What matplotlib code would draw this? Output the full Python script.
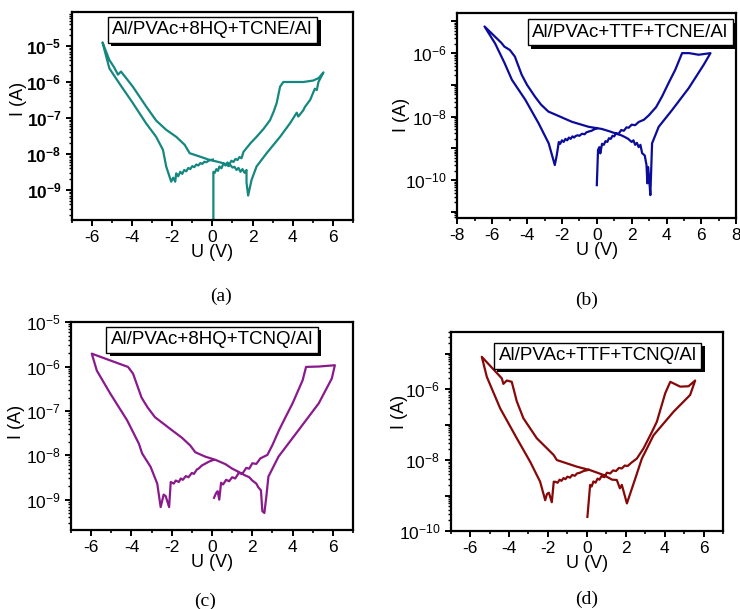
import matplotlib
matplotlib.use("Agg")
import matplotlib.pyplot as plt
import matplotlib.patheffects as pe
import matplotlib.ticker as mticker
import numpy as np

plt.rcParams.update({
    "font.family": ["Liberation Sans", "DejaVu Sans"],
    "font.size": 12,
    "axes.linewidth": 1.6,
    "xtick.major.width": 1.4,
    "ytick.major.width": 1.4,
    "xtick.minor.width": 1.2,
    "ytick.minor.width": 1.0,
    "xtick.major.size": 4,
    "ytick.major.size": 4,
    "xtick.minor.size": 2.5,
    "ytick.minor.size": 2,
    "mathtext.fontset": "custom",
    "mathtext.rm": "Liberation Sans",
    "mathtext.it": "Liberation Sans:italic",
    "mathtext.bf": "Liberation Sans:bold",
    "mathtext.default": "regular",
})

# (a) Al/PVAc+8HQ+TCNE/Al
u_a = [0.05, 0.05, 0.12, 0.2, 0.28, 0.35, 0.45, 0.55, 0.65, 0.75, 0.85, 0.95, 1.05, 1.15, 1.25, 1.35, 1.45,
       1.55, 1.9, 2.2, 2.55, 2.87, 3.05, 3.2, 3.37, 3.53, 4.0, 4.53, 5.03, 5.3, 5.53,
       5.28, 5.2, 5.1, 4.87, 4.6, 4.53, 4.28, 4.2, 3.87, 3.37, 2.7, 2.2, 1.95, 1.78, 1.7, 1.7, 1.6, 1.5,
       1.4, 1.3, 1.2, 1.1, 1.0, 0.9, 0.8, 0.65, 0.5, 0.35, 0.2, -0.13, -0.63, -1.13, -1.38, -1.8, -2.3,
       -2.8, -3.3, -3.96, -4.3, -4.55, -4.7, -4.9, -5.13, -5.47,
       -5.13, -4.63, -3.96, -3.3, -2.8, -2.46, -2.3, -2.05, -1.95, -1.85, -1.8, -1.7, -1.6, -1.5, -1.4,
       -1.3, -1.2, -1.1, -1.0, -0.9, -0.8, -0.7, -0.6, -0.5, -0.4, -0.3, -0.13, 0.03]
i_a = [1.5e-10, 3.2e-9, 3.0e-9, 3.8e-9, 3.4e-9, 4.5e-9, 4.0e-9, 5.4e-9, 4.8e-9, 5.8e-9, 5.2e-9, 6.5e-9,
       6.0e-9, 7.3e-9, 6.8e-9, 8.2e-9, 7.6e-9, 1.15e-8, 2.0e-8, 3.0e-8, 5.0e-8, 8.7e-8, 1.5e-7, 2.6e-7,
       7.4e-7, 1.0e-6, 1.0e-6, 1.0e-6, 1.1e-6, 1.3e-6, 1.85e-6,
       1.0e-6, 6.0e-7, 6.5e-7, 3.2e-7, 2.0e-7, 1.65e-7, 1.1e-7, 1.4e-7, 7.2e-8, 3.0e-8, 1.05e-8, 4.5e-9,
       1.9e-9, 7.0e-10, 1.6e-9, 3.6e-9, 3.0e-9, 3.8e-9, 3.2e-9, 4.1e-9, 3.6e-9, 4.4e-9, 4.2e-9, 4.9e-9,
       4.6e-9, 5.3e-9, 5.6e-9, 5.9e-9, 6.2e-9, 6.8e-9, 8.5e-9, 1.05e-8, 1.8e-8, 3.0e-8, 4.7e-8, 8.5e-8,
       2.1e-7, 7.4e-7, 1.3e-6, 1.95e-6, 1.6e-6, 2.6e-6, 4.1e-6, 1.26e-5,
       2.4e-6, 9.1e-7, 2.6e-7, 7.1e-8, 3.0e-8, 1.3e-8, 4.5e-9, 1.7e-9, 2.2e-9, 1.7e-9, 2.9e-9, 2.4e-9,
       3.2e-9, 2.8e-9, 3.6e-9, 3.3e-9, 4.1e-9, 3.8e-9, 4.6e-9, 4.3e-9, 5.1e-9, 4.8e-9, 5.6e-9, 5.3e-9,
       6.1e-9, 5.9e-9, 6.8e-9, 7.0e-9]

# (b) Al/PVAc+TTF+TCNE/Al
u_b = [0.0, 0.07, 0.15, 0.2, 0.3, 0.4, 0.5, 0.6, 0.7, 0.8, 0.9, 1.0, 1.1, 1.25, 1.4, 1.55, 1.7, 1.83, 2.0,
       2.2, 2.4, 2.7, 2.98, 3.4, 3.74, 4.1, 4.5, 4.89, 5.3, 5.84, 6.52,
       6.13, 5.27, 4.31, 3.55, 3.17, 3.07, 3.0, 2.94, 2.9, 2.85, 2.75, 2.6, 2.5, 2.4, 2.3, 2.2, 2.1, 2.0,
       1.8, 1.6, 1.4, 1.2, 1.06, 0.7, 0.29, -0.47, -1.43, -2.1, -2.78, -3.2, -3.55, -4.0, -4.31, -4.7,
       -4.99, -5.3, -5.47, -6.44,
       -5.83, -5.3, -4.87, -4.1, -3.34, -2.76, -2.41, -2.3, -2.18, -2.1, -2.0, -1.9, -1.8, -1.7, -1.6,
       -1.5, -1.4, -1.3, -1.22, -1.1, -1.0, -0.85, -0.7, -0.6, -0.47, -0.3, -0.15, 0.0]
i_b = [7e-11, 9e-10, 1.1e-9, 7e-10, 1.4e-9, 1.3e-9, 1.7e-9, 1.6e-9, 2.1e-9, 2.0e-9, 2.5e-9, 2.4e-9, 3.0e-9,
       2.9e-9, 3.8e-9, 3.6e-9, 4.6e-9, 4.5e-9, 5.6e-9, 5.4e-9, 6.8e-9, 8.0e-9, 1.1e-8, 2.0e-8, 4.3e-8,
       1.1e-7, 3.0e-7, 1.0e-6, 1.0e-6, 8.9e-7, 1.0e-6,
       4.3e-7, 7.9e-8, 1.6e-8, 4.8e-9, 1.45e-9, 3.4e-11, 1.2e-10, 2.6e-10, 8e-11, 3.0e-10, 6.0e-10,
       7.1e-10, 1.3e-9, 1.1e-9, 1.5e-9, 1.3e-9, 1.8e-9, 1.6e-9, 2.0e-9, 2.3e-9, 2.6e-9, 2.8e-9, 3.0e-9,
       3.5e-9, 4.1e-9, 4.8e-9, 6.9e-9, 1.0e-8, 1.45e-8, 2.4e-8, 4.3e-8, 1.0e-7, 2.1e-7, 7.8e-7, 1.26e-6,
       1.6e-6, 2.1e-6, 6.9e-6,
       2.0e-6, 5.0e-7, 1.45e-7, 3.4e-8, 6.2e-9, 1.45e-9, 3.0e-10, 6.0e-10, 1.6e-9, 1.4e-9, 1.8e-9,
       1.6e-9, 2.0e-9, 1.8e-9, 2.2e-9, 2.0e-9, 2.4e-9, 2.2e-9, 2.45e-9, 2.6e-9, 2.5e-9, 2.9e-9, 2.8e-9,
       3.2e-9, 3.4e-9, 3.6e-9, 4.0e-9, 4.3e-9]

# (c) Al/PVAc+8HQ+TCNQ/Al
u_c = [0.1, 0.2, 0.28, 0.36, 0.45, 0.55, 0.7, 0.85, 1.0, 1.15, 1.33, 1.5, 1.7, 1.85, 2.0, 2.2, 2.4, 2.75,
       3.0, 3.33, 3.7, 4.0, 4.5, 4.67, 5.3, 6.1,
       5.95, 5.3, 4.3, 3.3, 2.8, 2.7, 2.6, 2.5, 2.43, 2.3, 2.2, 2.0, 1.85, 1.6, 1.33, 1.0, 0.67, 0.17,
       -0.33, -0.83, -1.08, -1.5, -2.0, -2.83, -3.2, -3.5, -3.92, -4.17, -4.83, -5.97,
       -5.72, -5.05, -4.22, -3.63, -3.47, -3.05, -2.72, -2.55, -2.4, -2.3, -2.13, -2.05, -1.9, -1.8,
       -1.65, -1.55, -1.45, -1.3, -1.17, -1.0, -0.9, -0.75, -0.67, -0.5, -0.3, -0.15, 0.05]
i_c = [1.1e-9, 1.4e-9, 1.55e-9, 1.0e-9, 2.4e-9, 2.2e-9, 2.8e-9, 2.6e-9, 3.2e-9, 3.0e-9, 4.0e-9, 3.8e-9,
       5.2e-9, 5.0e-9, 6.6e-9, 6.4e-9, 8.5e-9, 1.02e-8, 1.7e-8, 3.7e-8, 8.0e-8, 1.48e-7, 4.9e-7, 9.8e-7,
       1.0e-6, 1.07e-6,
       5.4e-7, 1.48e-7, 3.7e-8, 9.3e-9, 3.3e-9, 1.2e-9, 5.0e-10, 5.5e-10, 1.62e-9, 1.9e-9, 2.3e-9,
       2.7e-9, 3.2e-9, 3.6e-9, 4.2e-9, 5.0e-9, 6.3e-9, 7.9e-9, 9.3e-9, 1.17e-8, 1.66e-8, 2.5e-8, 3.7e-8,
       7.2e-8, 1.2e-7, 2.0e-7, 6.9e-7, 9.8e-7, 1.26e-6, 1.95e-6,
       8.1e-7, 2.45e-7, 6.2e-8, 1.82e-8, 1.1e-8, 5.5e-9, 2.3e-9, 6.8e-10, 1.3e-9, 1.2e-9, 6.8e-10,
       2.5e-9, 2.3e-9, 2.7e-9, 2.5e-9, 3.0e-9, 2.8e-9, 3.4e-9, 3.2e-9, 4.0e-9, 3.8e-9, 4.8e-9, 5.0e-9,
       5.9e-9, 6.6e-9, 7.2e-9, 7.8e-9]

# (d) Al/PVAc+TTF+TCNQ/Al
u_d = [0.03, 0.17, 0.25, 0.34, 0.45, 0.55, 0.65, 0.75, 0.9, 1.03, 1.2, 1.35, 1.5, 1.65, 1.8, 1.95, 2.1,
       2.3, 2.57, 2.91, 3.3, 3.6, 4.03, 4.29, 4.8, 5.23, 5.57,
       5.31, 4.46, 3.43, 2.83, 2.49, 2.06, 1.95, 1.8, 1.7, 1.54, 1.3, 0.86, 0.17, -0.51, -1.54, -1.71,
       -2.57, -3.26, -3.6, -3.86, -4.11, -4.29, -4.37, -5.4,
       -5.14, -4.46, -3.6, -2.91, -2.4, -2.14, -2.05, -1.95, -1.8, -1.7, -1.63, -1.5, -1.4, -1.3, -1.2,
       -1.1, -1.0, -0.86, -0.75, -0.62, -0.5, -0.35, -0.17, 0.1]
i_d = [2.5e-10, 2.0e-9, 1.8e-9, 2.5e-9, 2.3e-9, 3.0e-9, 2.8e-9, 3.5e-9, 3.3e-9, 4.4e-9, 4.2e-9, 5.1e-9,
       4.9e-9, 6.0e-9, 5.8e-9, 7.0e-9, 6.8e-9, 8.5e-9, 1.1e-8, 2.1e-8, 5.5e-8, 1.2e-7, 7.6e-7, 1.6e-6,
       1.17e-6, 1.2e-6, 1.74e-6,
       6.8e-7, 2.3e-7, 5.0e-8, 1.1e-8, 3.0e-9, 6.0e-10, 1.0e-9, 2.0e-9, 1.6e-9, 2.75e-9, 2.8e-9, 3.8e-9,
       5.2e-9, 6.5e-9, 1.0e-8, 1.4e-8, 4.1e-8, 1.5e-7, 4.5e-7, 1.6e-6, 1.74e-6, 1.4e-6, 2.0e-6, 8.1e-6,
       2.2e-6, 2.9e-7, 4.1e-8, 8.9e-9, 2.45e-9, 7.4e-10, 1.1e-9, 1.2e-9, 6.5e-10, 2.45e-9, 2.45e-9,
       2.3e-9, 2.8e-9, 2.6e-9, 3.1e-9, 2.9e-9, 3.4e-9, 3.2e-9, 3.8e-9, 3.6e-9, 4.2e-9, 4.4e-9, 4.9e-9,
       5.3e-9]

titles = ["Al/PVAc+8HQ+TCNE/Al", "Al/PVAc+TTF+TCNE/Al", "Al/PVAc+8HQ+TCNQ/Al", "Al/PVAc+TTF+TCNQ/Al"]
panel_tags = ["(a)", "(b)", "(c)", "(d)"]
colors = ["#14877f", "#0c0c9a", "#8a1a8c", "#870808"]

fig = plt.figure(figsize=(7.4, 6.09), dpi=100)

rects = [
    [0.097, 0.639, 0.380, 0.341],
    [0.618, 0.642, 0.377, 0.337],
    [0.096, 0.130, 0.381, 0.341],
    [0.609, 0.128, 0.368, 0.327],
]
xlims = [(-7, 7), (-8, 8), (-7, 7), (-7, 7)]
xticks = [np.arange(-6, 7, 2), np.arange(-8, 9, 2), np.arange(-6, 7, 2), np.arange(-6, 7, 2)]
ylims = [(10 ** -9.83, 10 ** -4.06), (10 ** -11.19, 10 ** -4.73), (10 ** -9.68, 1e-5), (1e-10, 10 ** -4.39)]
yexp = [range(-9, -4), range(-11, -4), range(-9, -4), range(-10, -4)]
ylabeled = [range(-9, -4), range(-10, -5, 2), range(-9, -4), range(-10, -5, 2)]
label_xy = [(0.5, 0.915), (0.62, 0.905), (0.5, 0.915), (0.54, 0.88)]
ylab_xy = [(-0.16, 0.58), (-0.17, 0.5), (-0.163, 0.52), (-0.155, 0.6)]
tag_xy = [(0.298, 0.514), (0.793, 0.507), (0.277, 0.013), (0.793, 0.016)]

data = [(u_a, i_a), (u_b, i_b), (u_c, i_c), (u_d, i_d)]

for k in range(4):
    ax = fig.add_axes(rects[k])
    u, cur = data[k]
    ax.semilogy(u, cur, color=colors[k], lw=1.6)
    ax.set_xlim(*xlims[k])
    ax.set_ylim(*ylims[k])
    ax.set_xticks(xticks[k])
    ax.set_xticklabels([f"{int(v)}" for v in xticks[k]], fontsize=12.5)
    ax.xaxis.set_minor_locator(mticker.MultipleLocator(1))
    ax.set_yticks([10.0 ** e for e in yexp[k]])
    labs = []
    for e in yexp[k]:
        if e in ylabeled[k]:
            labs.append(r"$\mathbf{10^{%d}}$" % e if k == 0 else r"$10^{%d}$" % e)
        else:
            labs.append("")
    ax.set_yticklabels(labs, fontsize=12.5)
    ax.yaxis.set_minor_locator(mticker.LogLocator(base=10, subs=np.arange(2, 10) * 1.0, numticks=20))
    ax.yaxis.set_minor_formatter(mticker.NullFormatter())
    ax.tick_params(which="both", direction="out", top=False, right=False)
    ax.set_xlabel("U (V)", fontsize=13, labelpad=-1)
    ax.set_ylabel("I (A)", fontsize=13)
    ax.yaxis.set_label_coords(*ylab_xy[k])
    t = ax.text(*label_xy[k], titles[k], transform=ax.transAxes, ha="center", va="center",
                fontsize=13.5,
                bbox=dict(boxstyle="square,pad=0.25", fc="white", ec="black", lw=1.0))
    t.get_bbox_patch().set_path_effects([
        pe.SimplePatchShadow(offset=(2.5, -2.5), shadow_rgbFace="black", alpha=1.0),
        pe.Normal()])
    fig.text(*tag_xy[k], panel_tags[k], ha="center", va="center",
             fontsize=14, family=["Liberation Serif", "DejaVu Serif"])

fig.savefig("out.png", dpi=100)
